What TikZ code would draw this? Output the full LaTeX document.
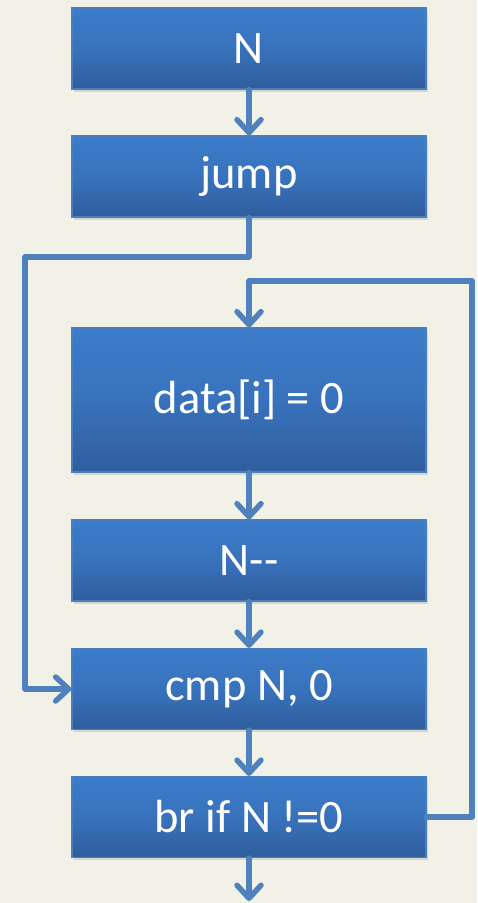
\documentclass[tikz,border=0pt]{standalone}
\usepackage{fontspec}
\setmainfont{Carlito}
\usetikzlibrary{arrows.meta,shadows}
\definecolor{bgc}{RGB}{242,241,231}
\definecolor{linec}{RGB}{79,129,189}
\definecolor{boxtop}{RGB}{60,124,202}
\definecolor{boxmid}{RGB}{56,114,188}
\definecolor{boxbot}{RGB}{48,94,158}
\definecolor{boxedge}{RGB}{74,126,190}
\tikzset{
  x=1pt,y=1pt,
  stepbox/.style={draw=boxedge,line width=1.2pt,
    top color=boxtop,bottom color=boxbot,middle color=boxmid,
    minimum width=354pt,inner sep=0pt,
    text=white,font=\fontsize{46.5}{46.5}\selectfont,
    drop shadow={opacity=0.25,shadow xshift=1.5pt,shadow yshift=-2.5pt}},
  flow/.style={draw=linec,line width=5.5pt,line cap=round,line join=round,
    -{Straight Barb[length=13pt,width=24pt,line cap=round,line join=round]}}
}
\begin{document}
\begin{tikzpicture}
\fill[bgc] (0,0) rectangle (477,-903);
\useasboundingbox (0,0) rectangle (477,-903);

% the instruction boxes
\node[stepbox,minimum height=81pt] (n)    at (249,-48.5) {N};
\node[stepbox,minimum height=81pt] (jump) at (249,-176.5) {jump};
\node[stepbox,minimum height=144pt](data) at (249,-400) {data[i] = 0};
\node[stepbox,minimum height=81pt] (dec)  at (249,-560.5) {N-{}-};
\node[stepbox,minimum height=81pt] (cmp)  at (249,-689) {cmp N, 0};
\node[stepbox,minimum height=81pt] (br)   at (249,-817) {br if N !=0};

% bends of the two detours
\coordinate (jl) at (249,-257);
\coordinate (ll) at (25,-257);
\coordinate (lt) at (249,-281);
\coordinate (rt) at (472,-281);
\coordinate (exit) at (249,-901);

% straight flow
\draw[flow] (n.south) -- (n.south |- jump.north);
\draw[flow] (data.south) -- (dec.north);
\draw[flow] (dec.south) -- (cmp.north);
\draw[flow] (cmp.south) -- (br.north);
\draw[flow] (br.south) -- (exit);

% jump to the compare
\draw[flow] (jump.south) -- (jl) -- (ll) -- (ll |- cmp.west) -- (cmp.west);

% back edge of the loop
\draw[flow] (br.east) -- (rt |- br.east) -- (rt) -- (lt) -- (data.north);
\end{tikzpicture}
\end{document}
